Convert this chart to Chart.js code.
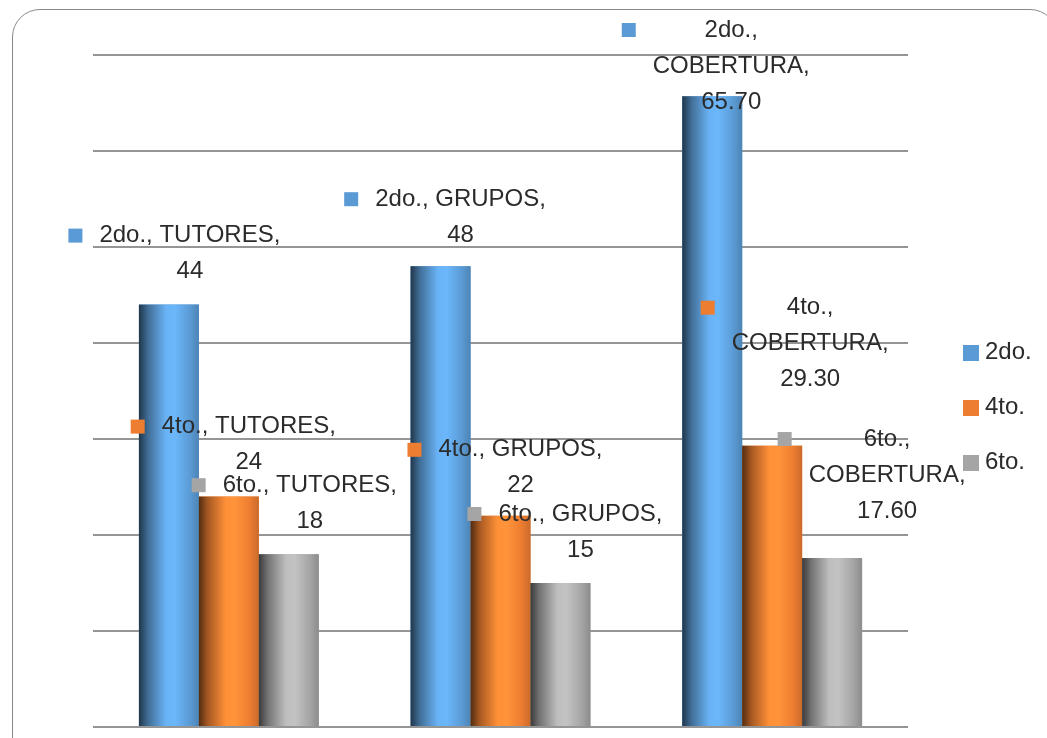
<!DOCTYPE html>
<html>
<head>
<meta charset="utf-8">
<script src="https://cdn.jsdelivr.net/npm/chart.js@4.4.0/dist/chart.umd.min.js"></script>
<style>
  html, body { margin: 0; padding: 0; background: #fff; overflow: hidden; }
  #frame {
    position: absolute; left: 12px; top: 9px;
    width: 1046px; height: 900px; box-sizing: border-box;
    border: 1.5px solid #8a8a8a; border-radius: 28px;
  }
  #chart { position: absolute; left: 0; top: 0; }
</style>
</head>
<body>
<div id="frame"></div>
<canvas id="chart" width="1047" height="738"></canvas>
<script>
// data
const categories = ['TUTORES', 'GRUPOS', 'COBERTURA'];
const seriesNames = ['2do.', '4to.', '6to.'];
const values2do = [44, 48, 65.70];
const values4to = [24, 22, 29.30];
const values6to = [18, 15, 17.60];
const valueDecimals = [0, 0, 2];   // COBERTURA is shown with two decimals
const yMax = 70;
const yStep = 10;

const seriesColors = ['#5b9bd5', '#ed7d31', '#a5a5a5'];
const textColor = '#2b2b2b';
const labelFont = '24px "Liberation Sans", Arial, sans-serif';

// [dx, dy] of each data label: text centre from bar centre, last line from bar top
const labelShift = [
    [[21, -33], [20, -31], [19, -33]],
    [[20, -34], [20, -30], [38, -66]],
    [[21, -33], [20, -33], [55, -47]]
];

// horizontal "cylinder" shading of the columns: [stop, brightness]
const shadeStops = [[0, 0.35], [0.15, 0.7], [0.45, 1.15], [0.6, 1.18], [0.85, 1.0], [1, 0.85]];

function shade(hex, f) {
    const n = parseInt(hex.slice(1), 16);
    const c = [(n >> 16) & 255, (n >> 8) & 255, n & 255].map(v => Math.min(255, Math.round(v * f)));
    return `rgb(${c[0]},${c[1]},${c[2]})`;
}

function wrapText(ctx, text, maxWidth) {
    const words = text.split(' ');
    const lines = [];
    let line = '';
    words.forEach(w => {
        const test = line ? line + ' ' + w : w;
        if (line && ctx.measureText(test).width > maxWidth) {
            lines.push(line);
            line = w;
        } else {
            line = test;
        }
    });
    if (line) lines.push(line);
    return lines;
}

const barShading = {
    id: 'barShading',
    afterDatasetsDraw(chart) {
        const ctx = chart.ctx;
        ctx.save();
        chart.data.datasets.forEach((ds, di) => {
            chart.getDatasetMeta(di).data.forEach(bar => {
                const p = bar.getProps(['x', 'y', 'base', 'width'], true);
                const left = p.x - p.width / 2;
                const g = ctx.createLinearGradient(left, 0, left + p.width, 0);
                shadeStops.forEach(([pos, f]) => g.addColorStop(pos, shade(seriesColors[di], f)));
                ctx.fillStyle = g;
                ctx.fillRect(left, p.y, p.width, p.base - p.y);
            });
        });
        ctx.restore();
    }
};

const dataLabels = {
    id: 'dataLabels',
    afterDraw(chart) {
        const ctx = chart.ctx;
        const lineGap = 36;
        const minFirst = chart.chartArea.top - 25;
        ctx.save();
        ctx.font = labelFont;
        ctx.textAlign = 'center';
        ctx.textBaseline = 'middle';
        chart.data.datasets.forEach((ds, di) => {
            chart.getDatasetMeta(di).data.forEach((bar, i) => {
                const p = bar.getProps(['x', 'y'], true);
                const txt = seriesNames[di] + ', ' + categories[i] + ', ' + ds.data[i].toFixed(valueDecimals[i]);
                const lines = wrapText(ctx, txt, 190);
                const [dx, dy] = labelShift[di][i];
                const cx = p.x + dx;
                let firstY = p.y + dy - (lines.length - 1) * lineGap;
                if (firstY < minFirst) firstY = minFirst;
                const maxW = Math.max(...lines.map(l => ctx.measureText(l).width));
                ctx.fillStyle = seriesColors[di];
                ctx.fillRect(cx - maxW / 2 - 17 - 14, firstY - 7, 14, 14);
                ctx.fillStyle = textColor;
                lines.forEach((l, k) => ctx.fillText(l, cx, firstY + k * lineGap));
            });
        });
        ctx.restore();
    }
};

const sideLegend = {
    id: 'sideLegend',
    afterDraw(chart) {
        const ctx = chart.ctx;
        const area = chart.chartArea;
        const gap = 55;
        const x = area.right + 55;
        const y0 = (area.top + area.bottom) / 2 + 16 - gap;
        ctx.save();
        ctx.font = labelFont;
        ctx.textAlign = 'left';
        ctx.textBaseline = 'middle';
        chart.data.datasets.forEach((ds, di) => {
            const y = y0 + di * gap;
            ctx.fillStyle = seriesColors[di];
            ctx.fillRect(x, y - 7, 16, 16);
            ctx.fillStyle = textColor;
            ctx.fillText(ds.label, x + 22, y);
        });
        ctx.restore();
    }
};

new Chart(document.getElementById('chart'), {
    type: 'bar',
    data: {
        labels: categories,
        datasets: [
            { label: seriesNames[0], data: values2do, backgroundColor: seriesColors[0] },
            { label: seriesNames[1], data: values4to, backgroundColor: seriesColors[1] },
            { label: seriesNames[2], data: values6to, backgroundColor: seriesColors[2] }
        ]
    },
    options: {
        responsive: false,
        animation: false,
        devicePixelRatio: 1,
        layout: { padding: { left: 93, right: 139, top: 55, bottom: 11 } },
        datasets: { bar: { categoryPercentage: 0.662, barPercentage: 1, borderWidth: 0 } },
        scales: {
            x: { display: false },
            y: {
                min: 0,
                max: yMax,
                ticks: { display: false, stepSize: yStep },
                grid: { color: '#959595', lineWidth: 2, drawTicks: false },
                border: { display: false }
            }
        },
        plugins: {
            legend: { display: false },
            tooltip: { enabled: false }
        }
    },
    plugins: [barShading, dataLabels, sideLegend]
});
</script>
</body>
</html>
